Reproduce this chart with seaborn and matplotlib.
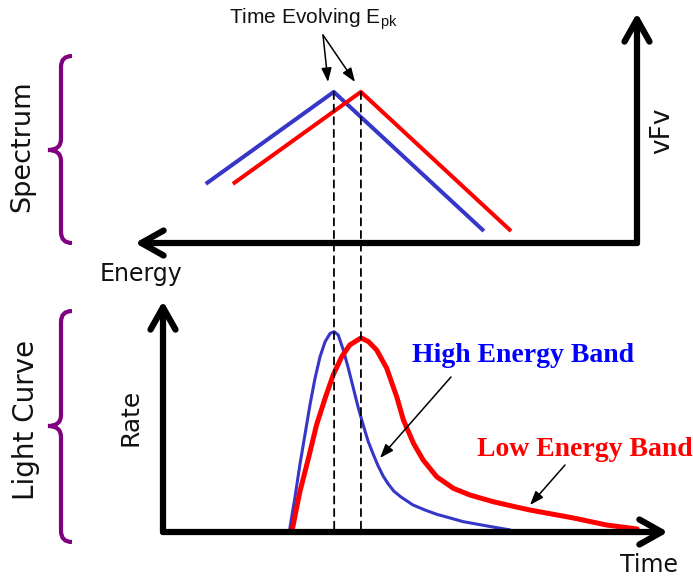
import numpy as np
import matplotlib.pyplot as plt
import seaborn as sns
from matplotlib.patches import ConnectionPatch, PathPatch
from matplotlib.path import Path

# spectrum (energy grows to the left, arbitrary units)
spec_energy_blue = [8.59, 6.04, 3.05]
spec_flux_blue = [2.57, 6.57, 0.52]
spec_energy_red = [8.05, 5.50, 2.51]
spec_flux_red = [2.57, 6.57, 0.52]

# light curves (arbitrary units)
lc_time_blue = [2.50, 2.61, 2.71, 2.81, 2.91, 3.01, 3.11, 3.21, 3.31, 3.39,
                3.47, 3.57, 3.67, 3.77, 3.87, 3.97, 4.06, 4.16, 4.26, 4.36,
                4.46, 4.57, 4.71, 4.95, 5.19, 5.43, 5.68, 5.94, 6.42, 6.87]
lc_rate_blue = [0.00, 1.46, 2.90, 4.20, 5.50, 6.65, 7.59, 8.24, 8.60, 8.67,
                8.53, 7.88, 7.09, 6.22, 5.35, 4.59, 3.94, 3.38, 2.86, 2.42,
                2.08, 1.77, 1.52, 1.17, 0.95, 0.76, 0.61, 0.45, 0.26, 0.09]
lc_time_red = [2.55, 2.71, 2.88, 3.04, 3.21, 3.37, 3.54, 3.70, 3.92, 4.07,
               4.23, 4.43, 4.63, 4.76, 4.96, 5.15, 5.42, 5.75, 6.08, 6.54,
               7.00, 7.27, 8.12, 8.79, 9.39]
lc_rate_red = [0.00, 1.74, 3.19, 4.63, 5.79, 6.80, 7.59, 8.10, 8.40, 8.24,
               7.88, 7.09, 5.84, 4.85, 3.84, 3.12, 2.39, 1.89, 1.60, 1.31,
               1.08, 0.95, 0.61, 0.30, 0.13]

BLUE = "#3636c9"
RED = "#ff0000"
PURPLE = "#800080"
W, H = 693, 577

sns.set_style("white")
plt.rcParams["font.family"] = ["DejaVu Sans"]
plt.rcParams["mathtext.fontset"] = "custom"
plt.rcParams["mathtext.rm"] = "Liberation Sans"


def px_box(x0, y0, x1, y1):
    # axes rectangle given in pixels from the top-left corner
    return [x0 / W, 1 - y1 / H, (x1 - x0) / W, (y1 - y0) / H]


def draw_axes_arrows(ax, corner, ends):
    kw = dict(arrowstyle="->,head_length=0.8,head_width=0.45", lw=4.5,
              color="black", shrinkA=0, shrinkB=0, mutation_scale=20,
              capstyle="round", joinstyle="round")
    for end in ends:
        ax.annotate("", xy=end, xytext=corner, xycoords="axes fraction",
                    arrowprops=kw)


def brace(ax, x_end, x_mid, x_tip, y_top, y_bot, y_tip):
    r = x_end - x_mid
    verts = [(x_end, y_top), (x_mid, y_top), (x_mid, y_top + r),
             (x_mid, y_tip - r), (x_mid, y_tip), (x_tip, y_tip),
             (x_mid, y_tip), (x_mid, y_tip + r),
             (x_mid, y_bot - r), (x_mid, y_bot), (x_end, y_bot)]
    codes = [Path.MOVETO, Path.CURVE3, Path.CURVE3, Path.LINETO,
             Path.CURVE3, Path.CURVE3, Path.CURVE3, Path.CURVE3,
             Path.LINETO, Path.CURVE3, Path.CURVE3]
    ax.add_patch(PathPatch(Path(verts, codes), fill=False, ec=PURPLE, lw=3,
                           capstyle="butt"))


fig = plt.figure(figsize=(6.93, 5.77), dpi=100)

# spectrum panel
ax_s = fig.add_axes(px_box(135, 13, 637, 243))
sns.lineplot(x=spec_energy_blue, y=spec_flux_blue, ax=ax_s, color=BLUE,
             lw=2.9, sort=False, estimator=None, solid_capstyle="butt")
sns.lineplot(x=spec_energy_red, y=spec_flux_red, ax=ax_s, color=RED,
             lw=2.9, sort=False, estimator=None, solid_capstyle="butt")
ax_s.set_xlim(10, 0)
ax_s.set_ylim(0, 10)
ax_s.axis("off")
draw_axes_arrows(ax_s, (1, 0), [(1, 1), (0, 0)])

# light curve panel
ax_l = fig.add_axes(px_box(163, 301, 668, 532))
sns.lineplot(x=lc_time_blue, y=lc_rate_blue, ax=ax_l, color=BLUE,
             lw=2.2, sort=False, estimator=None, solid_joinstyle="round")
sns.lineplot(x=lc_time_red, y=lc_rate_red, ax=ax_l, color=RED,
             lw=3.6, sort=False, estimator=None, solid_joinstyle="round")
ax_l.set_xlim(0, 10)
ax_l.set_ylim(0, 10)
ax_l.axis("off")
draw_axes_arrows(ax_l, (0, 0), [(0, 1), (1, 0)])

# dashed lines linking spectral peak to light-curve peak
pairs = [(spec_energy_blue, spec_flux_blue, lc_time_blue, lc_rate_blue),
         (spec_energy_red, spec_flux_red, lc_time_red, lc_rate_red)]
for e, f, t, r in pairs:
    i, j = int(np.argmax(f)), int(np.argmax(r))
    con = ConnectionPatch(xyA=(e[i], f[i]), coordsA=ax_s.transData,
                          xyB=(t[j], 0), coordsB=ax_l.transData,
                          ls=(0, (4, 3)), lw=1.3, color="black", zorder=5)
    fig.add_artist(con)

# overlay for labels, braces and pointers
ax_o = fig.add_axes([0, 0, 1, 1])
ax_o.set_xlim(0, W)
ax_o.set_ylim(H, 0)
ax_o.axis("off")

brace(ax_o, 72, 61, 48, 56, 243, 150)
brace(ax_o, 72, 61, 48, 311, 542, 426)

txt = dict(color="#111111", ha="center", va="center")
ax_o.text(22, 146, "Spectrum", rotation=90, fontsize=19.5, **txt)
ax_o.text(26, 420, "Light Curve", rotation=90, fontsize=20, **txt)
ax_o.text(141, 274, "Energy", fontsize=17, **txt)
ax_o.text(662, 131, "vFv", rotation=90, fontsize=19, **txt)
ax_o.text(131, 417, "Rate", rotation=90, fontsize=18, **txt)
ax_o.text(649, 565, "Time", fontsize=17, **txt)

ax_o.text(313, 23, r"Time Evolving E$_{\mathrm{pk}}$", fontsize=15,
          family="Liberation Sans", ha="center", va="baseline", color="#111111")
ax_o.text(523, 362, "High Energy Band", fontsize=20, family="Liberation Serif",
          weight="bold", color="#0000ff", ha="center", va="baseline")
ax_o.text(585, 456, "Low Energy Band", fontsize=20, family="Liberation Serif",
          weight="bold", color=RED, ha="center", va="baseline")

pointer = dict(arrowstyle="-|>,head_length=0.6,head_width=0.22",
               mutation_scale=14, lw=1.1, color="black", shrinkA=0, shrinkB=0)
for start, tip in [((323, 35), (328, 82)), ((323, 35), (355, 82)),
                   ((451, 377), (380, 458)), ((565, 465), (530, 505))]:
    ax_o.annotate("", xy=tip, xytext=start, arrowprops=pointer)

fig.savefig("out.png", dpi=100)
